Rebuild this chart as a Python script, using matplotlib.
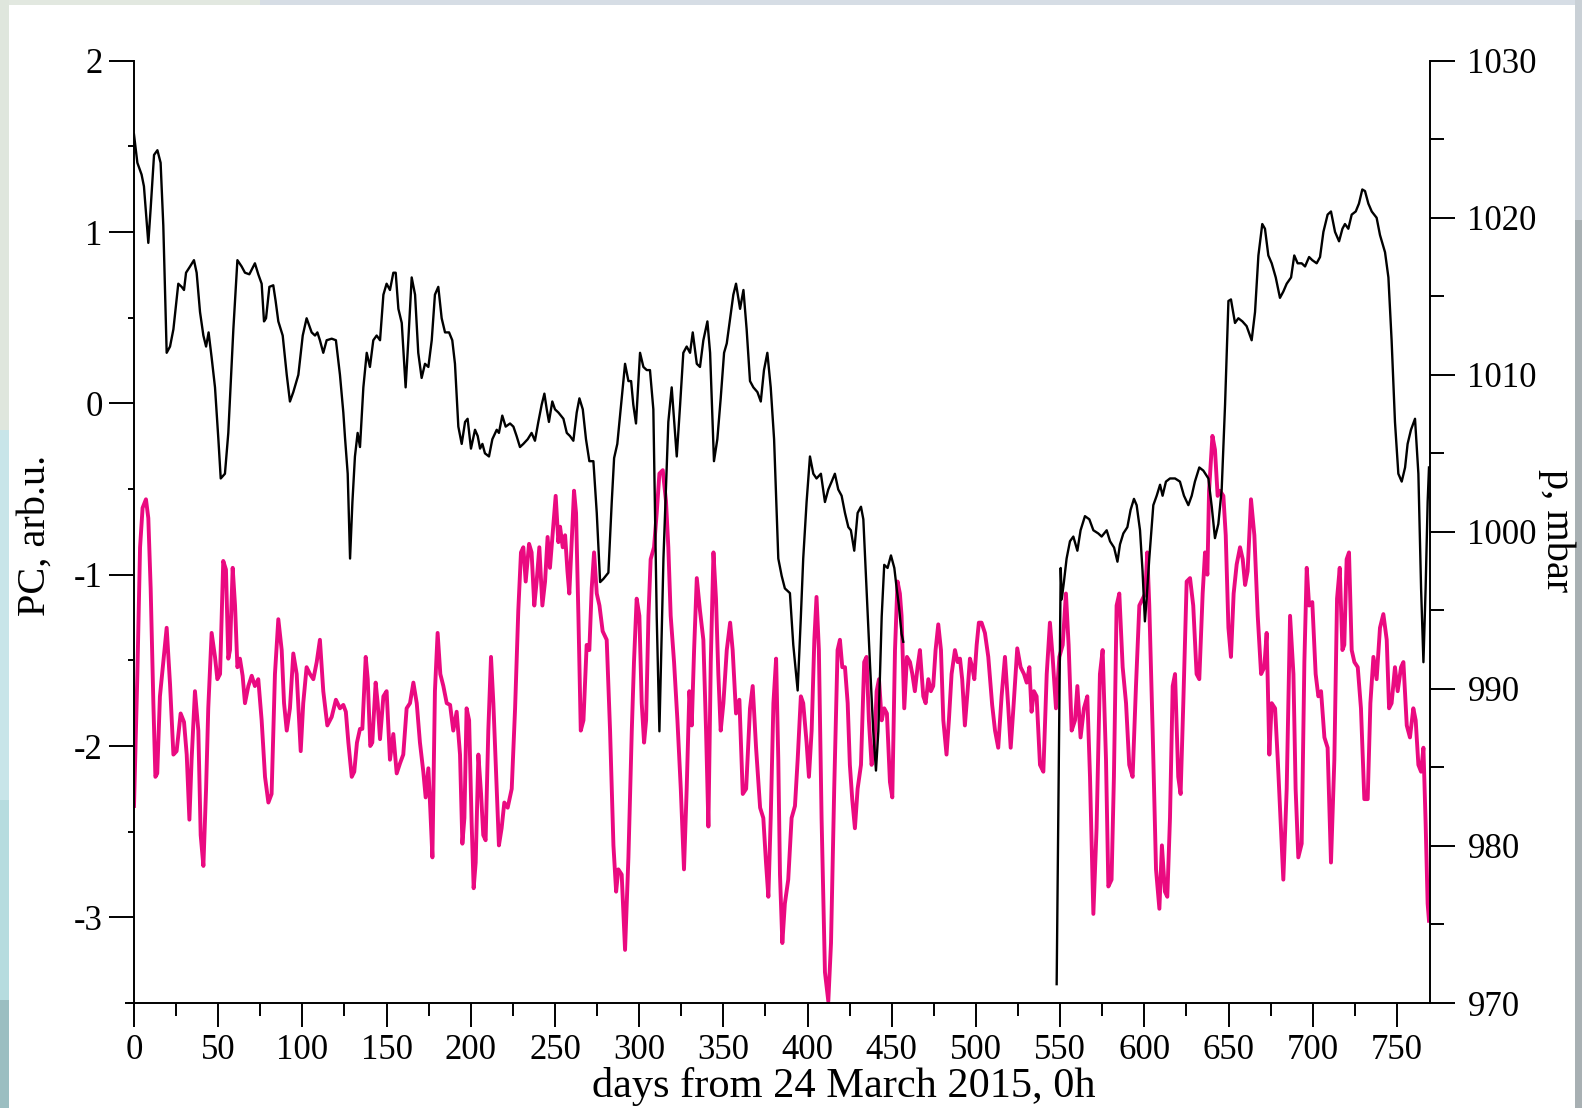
import numpy as np
import matplotlib
matplotlib.use("Agg")
import matplotlib.pyplot as plt
from matplotlib.patches import Rectangle
from matplotlib.ticker import MultipleLocator

plt.rcParams["font.family"] = ["Liberation Serif", "DejaVu Serif"]
plt.rcParams["axes.unicode_minus"] = False

# surface pressure, mbar (right axis); NaN marks the gap in the record
p_days = [0.0, 2.0, 4.5, 5.9, 8.5, 9.9, 11.9, 13.9, 15.8, 17.4, 19.4, 21.4, 23.4, 26.3,
          28.3, 29.7, 30.9, 33.3, 35.6, 37.2, 39.2, 41.2, 42.8, 44.3, 46.1, 48.1, 50.1,
          51.5, 54.0, 56.0, 59.0, 61.4, 63.9, 65.9, 68.5, 69.9, 71.8, 73.8, 75.8, 77.2,
          78.4, 80.4, 82.7, 84.1, 85.7, 88.3, 90.7, 92.6, 94.6, 97.6, 100.2, 102.5,
          105.5, 107.5, 108.9, 110.4, 112.4, 114.4, 117.4, 119.9, 122.3, 124.3, 125.3,
          126.9, 128.3, 129.7, 131.2, 132.8, 134.2, 136.2, 138.2, 140.1, 142.1, 144.1,
          146.1, 148.1, 150.0, 152.0, 154.0, 155.4, 157.0, 159.0, 161.3, 162.9, 164.9,
          166.9, 168.8, 170.8, 172.8, 174.8, 176.8, 178.7, 180.7, 182.7, 184.7, 187.1,
          189.0, 190.6, 192.6, 194.6, 196.6, 198.1, 200.1, 202.5, 204.1, 205.5, 206.9,
          208.4, 210.8, 212.8, 215.4, 216.7, 218.7, 220.7, 223.3, 225.3, 227.2, 229.2,
          231.2, 233.8, 236.1, 238.1, 240.1, 242.1, 243.7, 245.1, 246.4, 248.4, 250.0,
          252.0, 255.0, 257.0, 258.9, 260.9, 262.9, 264.5, 266.5, 268.4, 270.4, 272.8,
          274.8, 276.8, 278.7, 281.7, 283.7, 285.1, 287.0, 289.6, 291.6, 293.6, 295.2,
          296.5, 298.1, 300.5, 302.5, 304.5, 306.4, 308.4, 310.4, 312.0, 314.4, 317.3,
          319.3, 322.3, 324.3, 326.2, 328.2, 330.2, 331.8, 334.2, 336.1, 338.1, 340.5,
          342.1, 344.4, 346.4, 348.4, 350.4, 352.0, 354.0, 355.9, 357.5, 359.9, 361.9,
          363.8, 365.8, 367.8, 370.2, 372.2, 374.1, 376.1, 378.1, 380.1, 382.6, 384.6,
          386.5, 389.5, 391.5, 394.1, 396.0, 397.4, 399.4, 401.4, 403.4, 405.3, 407.9,
          410.3, 412.3, 414.3, 416.2, 418.2, 420.2, 422.2, 424.2, 425.7, 427.7, 429.7,
          431.7, 433.1, 435.0, 437.0, 439.0, 440.6, 442.0, 444.0, 445.5, 447.5, 449.5,
          451.5, 452.9, 454.2, 455.8, 456.8,
          500.0,
          547.9, 550.3, 550.9, 552.2, 553.8, 555.8, 557.8, 560.2, 562.1, 564.7, 567.3,
          569.7, 572.6, 574.6, 577.6, 579.6, 582.0, 584.0, 585.5, 587.5, 589.9, 591.8,
          593.8, 595.4, 597.4, 598.9, 600.3, 601.3, 602.9, 605.3, 607.3, 609.3, 610.8,
          612.8, 615.2, 618.2, 621.1, 623.5, 626.1, 628.1, 630.0, 632.6, 635.0, 638.0,
          640.0, 641.9, 643.9, 645.9, 647.9, 649.9, 651.4, 653.8, 655.8, 658.2, 660.7,
          663.7, 665.7, 667.7, 670.0, 671.6, 673.6, 675.6, 678.0, 680.5, 682.5, 684.5,
          687.1, 689.0, 691.0, 693.4, 695.4, 697.8, 699.7, 702.3, 704.3, 706.3, 708.8,
          710.8, 713.2, 715.6, 717.6, 719.1, 721.1, 723.1, 725.5, 727.4, 729.4, 731.0,
          733.0, 735.0, 737.9, 739.9, 742.9, 744.9, 746.8, 748.8, 750.8, 752.8, 754.8,
          756.3, 758.3, 760.7, 762.7, 764.3, 765.7, 767.0, 768.2, 769.0]
p_mbar = [1025.3, 1023.5, 1022.75, 1022.0, 1018.4, 1020.6, 1024.0, 1024.3, 1023.5,
          1019.5, 1011.4, 1011.8, 1012.9, 1015.8, 1015.6, 1015.4, 1016.5, 1016.9, 1017.3,
          1016.5, 1014.0, 1012.5, 1011.8, 1012.7, 1011.1, 1009.2, 1005.9, 1003.4, 1003.7,
          1006.3, 1012.9, 1017.3, 1016.9, 1016.5, 1016.4, 1016.7, 1017.1, 1016.4, 1015.8,
          1013.4, 1013.6, 1015.6, 1015.7, 1014.7, 1013.4, 1012.5, 1010.0, 1008.3, 1008.9,
          1010.0, 1012.5, 1013.6, 1012.7, 1012.5, 1012.7, 1012.2, 1011.4, 1012.2, 1012.3,
          1012.2, 1010.0, 1007.6, 1006.0, 1003.7, 998.3, 1001.9, 1004.8, 1006.3, 1005.4,
          1009.2, 1011.4, 1010.5, 1012.2, 1012.5, 1012.2, 1015.1, 1015.8, 1015.4, 1016.5,
          1016.5, 1014.2, 1013.3, 1009.2, 1012.2, 1016.2, 1015.1, 1011.4, 1009.8, 1010.7,
          1010.5, 1012.2, 1015.1, 1015.6, 1013.6, 1012.7, 1012.7, 1012.2, 1010.7, 1006.7,
          1005.6, 1007.0, 1007.2, 1005.3, 1006.5, 1006.1, 1005.3, 1005.6, 1005.0, 1004.8,
          1005.9, 1006.5, 1006.3, 1007.4, 1006.7, 1006.9, 1006.7, 1006.1, 1005.4, 1005.6,
          1005.9, 1006.3, 1005.8, 1007.0, 1008.1, 1008.8, 1007.8, 1007.0, 1008.3, 1007.8,
          1007.6, 1007.2, 1006.3, 1006.1, 1005.8, 1007.6, 1008.5, 1007.8, 1005.9, 1004.5,
          1004.5, 1001.2, 996.8, 997.0, 997.4, 1001.9, 1004.7, 1005.6, 1008.5, 1010.7,
          1009.6, 1009.6, 1008.1, 1006.9, 1011.4, 1010.5, 1010.3, 1010.3, 1007.8, 994.6,
          987.3, 998.3, 1007.0, 1009.2, 1004.8, 1008.1, 1011.4, 1011.8, 1011.4, 1012.7,
          1010.7, 1010.5, 1012.2, 1013.4, 1011.4, 1004.5, 1005.9, 1008.5, 1011.4, 1012.0,
          1013.6, 1015.1, 1015.8, 1014.2, 1015.4, 1012.9, 1009.6, 1009.2, 1008.9, 1008.3,
          1010.3, 1011.4, 1009.2, 1005.9, 998.3, 997.2, 996.4, 996.1, 992.8, 989.9, 994.6,
          998.3, 1001.9, 1004.8, 1003.7, 1003.4, 1003.7, 1001.9, 1002.7, 1003.2, 1003.7,
          1002.7, 1002.3, 1001.2, 1000.3, 1000.1, 998.8, 1001.2, 1001.6, 1000.8, 996.4,
          991.7, 987.3, 984.8, 987.3, 994.6, 997.9, 997.7, 998.5, 997.7, 996.4, 995.3,
          993.5, 993.0,
          np.nan,
          971.2, 997.7, 995.7, 996.8, 998.3, 999.4, 999.7, 998.8, 1000.1, 1001.0, 1000.8,
          1000.1, 999.9, 999.7, 1000.1, 999.4, 999.0, 998.1, 999.2, 999.9, 1000.3, 1001.4,
          1002.1, 1001.7, 1000.1, 997.5, 994.3, 995.7, 998.3, 1001.7, 1002.3, 1003.0,
          1002.3, 1003.2, 1003.4, 1003.4, 1003.2, 1002.3, 1001.7, 1002.3, 1003.2, 1004.1,
          1003.9, 1003.4, 1001.6, 999.6, 1000.5, 1002.7, 1008.1, 1014.7, 1014.8, 1013.3,
          1013.6, 1013.4, 1013.1, 1012.2, 1014.0, 1017.6, 1019.6, 1019.3, 1017.6, 1017.1,
          1016.2, 1014.9, 1015.3, 1015.8, 1016.2, 1017.6, 1017.1, 1017.1, 1016.9, 1017.5,
          1017.3, 1017.1, 1017.5, 1019.1, 1020.2, 1020.4, 1019.1, 1018.5, 1019.3, 1019.6,
          1019.3, 1020.2, 1020.4, 1020.9, 1021.8, 1021.7, 1020.9, 1020.4, 1020.0, 1018.9,
          1017.8, 1016.2, 1012.2, 1007.0, 1003.7, 1003.2, 1004.1, 1005.6, 1006.5, 1007.2,
          1003.7, 996.4, 991.7, 996.4, 1001.9, 1004.1]

# principal component, arb. units (left axis)
pc_days = [0.0, 2.0, 3.6, 5.1, 7.1, 8.5, 9.9, 11.5, 12.7, 13.8, 15.4, 17.4, 19.4, 21.4,
           23.4, 25.3, 27.7, 29.7, 31.3, 32.9, 34.2, 36.2, 38.2, 39.6, 41.2, 42.8, 44.1,
           46.1, 48.1, 49.5, 51.1, 53.0, 54.6, 56.0, 57.0, 58.6, 60.0, 61.4, 62.9, 64.5,
           65.9, 67.9, 69.9, 71.8, 73.8, 75.8, 77.8, 79.8, 81.7, 83.7, 85.7, 87.7, 89.1,
           90.7, 92.6, 94.6, 96.6, 99.0, 100.5, 102.5, 104.5, 106.5, 108.5, 110.4, 112.4,
           114.8, 117.4, 119.9, 122.3, 124.3, 125.8, 127.3, 129.3, 130.8, 132.4, 134.2,
           135.6, 137.6, 138.8, 140.3, 141.5, 143.5, 144.7, 146.1, 148.1, 150.0, 152.0,
           154.0, 156.0, 158.0, 159.9, 161.9, 163.9, 165.9, 167.9, 169.8, 171.8, 173.2,
           174.8, 176.0, 177.2, 178.7, 180.3, 181.9, 183.7, 185.7, 187.7, 189.6, 191.6,
           193.6, 195.0, 196.2, 197.5, 199.0, 200.5, 201.7, 202.9, 204.5, 206.1, 207.4,
           208.8, 210.4, 212.0, 213.4, 215.4, 216.7, 218.3, 219.9, 221.9, 224.3, 226.3,
           228.2, 229.8, 231.2, 232.6, 234.6, 236.1, 237.7, 239.1, 240.7, 242.5, 244.1,
           245.6, 247.0, 249.0, 250.4, 252.0, 253.0, 254.6, 256.0, 257.4, 258.5, 259.9,
           261.3, 262.5, 263.9, 265.3, 266.9, 268.8, 270.4, 271.8, 273.2, 274.8, 276.4,
           278.3, 280.7, 282.7, 284.7, 286.3, 287.6, 289.6, 291.6, 293.6, 295.6, 296.9,
           298.5, 300.1, 301.5, 302.9, 304.1, 305.5, 306.8, 308.8, 310.4, 312.0, 314.0,
           315.9, 317.3, 318.7, 320.7, 322.7, 324.7, 326.6, 328.2, 329.8, 331.2, 332.6,
           334.2, 336.1, 338.1, 339.7, 341.1, 342.5, 344.1, 345.6, 347.0, 348.4, 350.0,
           352.0, 354.0, 355.5, 357.5, 359.5, 361.5, 363.5, 365.8, 367.4, 369.4, 371.8,
           373.7, 375.3, 376.7, 378.1, 379.7, 381.3, 382.6, 383.6, 385.0, 386.5, 388.5,
           390.5, 392.5, 394.1, 396.0, 397.4, 399.4, 400.8, 402.4, 404.0, 405.3, 406.7,
           408.3, 410.3, 412.3, 413.9, 415.8, 417.8, 419.2, 420.6, 422.2, 423.8, 425.1,
           426.5, 428.1, 429.7, 431.7, 433.6, 435.0, 436.4, 438.0, 439.6, 441.0, 442.4,
           444.0, 445.5, 447.1, 448.9, 450.3, 451.9, 453.4, 454.8, 455.8, 457.4, 459.0,
           460.8, 462.2, 463.7, 465.3, 466.7, 468.7, 470.1, 471.7, 473.2, 474.6, 476.0,
           477.6, 479.2, 480.6, 482.5, 483.9, 485.5, 487.5, 489.1, 490.5, 491.8, 493.4,
           495.0, 496.4, 497.8, 499.0, 500.4, 501.7, 503.3, 505.3, 507.3, 509.6, 511.3,
           513.2, 515.2, 517.2, 519.2, 520.6, 522.2, 524.5, 526.5, 528.5, 530.1, 531.7,
           533.0, 534.4, 536.0, 538.0, 540.0, 542.0, 543.9, 545.5, 547.5, 549.5, 551.5,
           553.4, 555.0, 556.8, 558.8, 560.2, 562.1, 564.1, 566.1, 567.7, 569.7, 571.6,
           573.6, 575.2, 577.2, 578.6, 580.5, 581.9, 583.5, 585.1, 587.1, 589.1, 591.0,
           593.0, 595.0, 597.0, 599.0, 600.5, 601.7, 602.9, 604.9, 606.9, 608.9, 610.4,
           612.2, 613.6, 615.2, 616.8, 618.2, 620.1, 621.5, 623.1, 625.1, 627.1, 629.0,
           631.0, 632.6, 634.6, 636.0, 637.4, 638.4, 640.4, 641.9, 643.5, 644.9, 646.9,
           648.3, 649.9, 651.4, 653.0, 654.8, 656.8, 658.4, 659.8, 661.3, 663.3, 665.3,
           667.3, 669.3, 671.2, 672.6, 674.2, 675.6, 677.6, 679.2, 681.1, 682.5, 684.5,
           686.5, 688.5, 689.8, 691.4, 693.4, 695.0, 696.4, 697.8, 699.7, 701.7, 703.3,
           704.9, 706.9, 708.8, 710.8, 712.8, 714.4, 716.0, 717.6, 718.7, 720.1, 721.5,
           723.1, 724.7, 726.7, 728.6, 730.6, 732.6, 734.2, 736.0, 737.9, 739.9, 741.9,
           743.9, 745.3, 746.8, 748.8, 750.4, 752.4, 753.8, 755.8, 757.7, 759.7, 761.1,
           762.7, 764.3, 765.7, 767.0, 768.2, 769.0]
pc_vals = [-2.35, -1.58, -0.84, -0.61, -0.56, -0.67, -1.08, -1.75, -2.18, -2.16, -1.71,
           -1.51, -1.31, -1.64, -2.05, -2.03, -1.81, -1.86, -2.05, -2.43, -2.08, -1.68,
           -1.91, -2.52, -2.70, -2.25, -1.78, -1.34, -1.48, -1.61, -1.58, -0.92, -0.97,
           -1.49, -1.44, -0.96, -1.18, -1.54, -1.49, -1.59, -1.75, -1.65, -1.59, -1.65,
           -1.61, -1.85, -2.18, -2.33, -2.28, -1.58, -1.26, -1.44, -1.75, -1.91, -1.78,
           -1.46, -1.58, -2.03, -1.75, -1.54, -1.58, -1.61, -1.51, -1.38, -1.68, -1.88,
           -1.83, -1.73, -1.78, -1.76, -1.80, -1.98, -2.18, -2.15, -1.98, -1.90, -1.90,
           -1.48, -1.61, -2.00, -1.98, -1.63, -1.75, -1.96, -1.71, -1.68, -2.08, -1.93,
           -2.16, -2.10, -2.05, -1.78, -1.75, -1.63, -1.75, -1.98, -2.15, -2.30, -2.13,
           -2.38, -2.65, -1.68, -1.34, -1.58, -1.65, -1.75, -1.76, -1.91, -1.80, -2.05,
           -2.57, -2.42, -1.78, -1.85, -2.45, -2.83, -2.68, -2.05, -2.28, -2.52, -2.55,
           -1.91, -1.48, -1.75, -2.25, -2.58, -2.48, -2.33, -2.36, -2.25, -1.78, -1.21,
           -0.87, -0.84, -1.04, -0.82, -0.87, -1.18, -1.04, -0.84, -1.18, -1.04, -0.78,
           -0.96, -0.71, -0.54, -0.81, -0.72, -0.84, -0.77, -0.98, -1.11, -0.81, -0.51,
           -0.64, -1.24, -1.91, -1.85, -1.41, -1.44, -1.08, -0.87, -1.11, -1.18, -1.33,
           -1.38, -1.91, -2.58, -2.85, -2.72, -2.75, -3.19, -2.65, -1.91, -1.51, -1.14,
           -1.24, -1.75, -1.98, -1.85, -1.24, -0.91, -0.84, -0.64, -0.41, -0.39, -0.57,
           -0.84, -1.24, -1.51, -1.85, -2.25, -2.72, -2.25, -1.68, -1.88, -1.44, -1.02,
           -1.21, -1.38, -1.91, -2.47, -1.51, -0.87, -1.14, -1.58, -1.91, -1.75, -1.44,
           -1.28, -1.44, -1.81, -1.73, -2.28, -2.25, -1.78, -1.65, -2.01, -2.36, -2.42,
           -2.68, -2.88, -2.42, -1.75, -1.49, -2.08, -2.75, -3.15, -2.92, -2.78, -2.42,
           -2.35, -2.08, -1.71, -1.75, -1.98, -2.18, -1.91, -1.38, -1.13, -1.44, -2.42,
           -3.32, -3.49, -3.15, -2.25, -1.44, -1.38, -1.54, -1.54, -1.75, -2.11, -2.31,
           -2.48, -2.25, -2.11, -1.51, -1.48, -1.85, -2.11, -2.01, -1.68, -1.61, -1.85,
           -1.78, -1.81, -2.21, -2.30, -1.44, -1.04, -1.11, -1.24, -1.78, -1.48, -1.51,
           -1.58, -1.68, -1.54, -1.44, -1.71, -1.75, -1.61, -1.68, -1.65, -1.44, -1.29,
           -1.44, -1.85, -2.05, -1.85, -1.58, -1.44, -1.51, -1.49, -1.61, -1.88, -1.68,
           -1.49, -1.54, -1.61, -1.41, -1.28, -1.28, -1.34, -1.48, -1.76, -1.91, -2.01,
           -1.71, -1.48, -1.78, -2.01, -1.78, -1.43, -1.54, -1.58, -1.63, -1.54, -1.80,
           -1.68, -1.71, -2.11, -2.15, -1.58, -1.28, -1.48, -1.78, -1.48, -1.41, -1.11,
           -1.41, -1.91, -1.85, -1.65, -1.95, -1.78, -1.71, -2.18, -2.98, -2.48, -1.58,
           -1.44, -2.08, -2.82, -2.78, -2.18, -1.18, -1.11, -1.54, -1.75, -2.11, -2.18,
           -1.65, -1.18, -1.14, -1.11, -0.87, -1.18, -1.91, -2.72, -2.95, -2.58, -2.85,
           -2.88, -2.42, -1.65, -1.58, -2.18, -2.28, -1.75, -1.04, -1.02, -1.18, -1.58,
           -1.61, -1.11, -0.87, -1.00, -0.51, -0.19, -0.27, -0.54, -0.51, -0.54, -0.77,
           -1.31, -1.48, -1.11, -0.94, -0.84, -0.91, -1.06, -0.98, -0.56, -0.77, -1.24,
           -1.58, -1.54, -1.34, -2.05, -1.75, -1.78, -2.08, -2.48, -2.78, -2.25, -1.24,
           -1.58, -2.25, -2.65, -2.57, -1.51, -0.96, -1.18, -1.16, -1.58, -1.71, -1.68,
           -1.95, -2.01, -2.68, -2.08, -1.14, -0.96, -1.44, -1.41, -0.91, -0.87, -1.44,
           -1.51, -1.54, -1.78, -2.31, -2.31, -1.75, -1.48, -1.61, -1.31, -1.23, -1.38,
           -1.78, -1.75, -1.54, -1.68, -1.54, -1.51, -1.88, -1.95, -1.78, -1.85, -2.11,
           -2.15, -2.01, -2.45, -2.92, -3.02]

W, H = 1582, 1108
fig = plt.figure(figsize=(W / 100, H / 100), dpi=100)
fig.set_facecolor("#d6dde5")


def band(x0, y0, x1, y1, color):
    # rectangle given in pixels from the top-left corner
    fig.add_artist(Rectangle((x0 / W, 1 - y1 / H), (x1 - x0) / W, (y1 - y0) / H,
                             transform=fig.transFigure, facecolor=color,
                             edgecolor="none", zorder=-10))


# slide backdrop around the white panel
band(0, 0, 260, 6, "#e2e8e0")
band(0, 0, 9, 430, "#dfe6dd")
band(0, 430, 9, 800, "#c8e5e9")
band(0, 800, 9, 1000, "#b6dcdf")
band(0, 1000, 9, H, "#9bbec1")
band(1575, 0, W, 220, "#c9d0d6")
band(1575, 220, W, H, "#a8b0b3")
band(9, 5, 1575, H, "white")

ax = fig.add_axes([134 / W, 1 - 1003 / H, (1430 - 134) / W, (1003 - 60.7) / H])
ax.patch.set_visible(False)
ax2 = ax.twinx()
ax2.patch.set_visible(False)

pink = "#ea0a80"
ax.plot(pc_days, pc_vals, color=pink, lw=2.8, solid_joinstyle="round")
ax2.plot(p_days, p_mbar, color="black", lw=1.7, solid_joinstyle="round")

ax.set_xlim(0, 769.6)
ax.set_ylim(-3.5, 2)
ax2.set_ylim(970, 1030)

ax.xaxis.set_major_locator(MultipleLocator(50))
ax.xaxis.set_minor_locator(MultipleLocator(25))
ax.yaxis.set_major_locator(MultipleLocator(1))
ax.yaxis.set_minor_locator(MultipleLocator(0.5))
ax2.yaxis.set_major_locator(MultipleLocator(10))
ax2.yaxis.set_minor_locator(MultipleLocator(5))

for s in ("top", "right"):
    ax.spines[s].set_visible(False)
for s in ("top", "left", "bottom"):
    ax2.spines[s].set_visible(False)
for a in (ax, ax2):
    for sp in a.spines.values():
        sp.set_linewidth(1.4)

ax.tick_params(axis="x", which="major", direction="out", length=17, width=1.4,
               pad=5, labelsize=25)
ax.tick_params(axis="x", which="minor", direction="out", length=9, width=1.4)
ax.tick_params(axis="y", which="major", direction="out", length=18, width=1.4,
               pad=4.5, labelsize=25)
ax.tick_params(axis="y", which="minor", direction="out", length=4, width=1.4)
ax2.tick_params(axis="y", which="major", direction="out", length=18, width=1.4,
                pad=9, labelsize=25)
ax2.tick_params(axis="y", which="minor", direction="out", length=10, width=1.4)

# short stub of the time axis left of the PC axis
ax.plot([-9 / 1296, 0], [0, 0], transform=ax.transAxes, color="black", lw=1.4,
        clip_on=False, solid_capstyle="butt")

fig.text(844 / W, 1 - 1097 / H, "days from 24 March 2015, 0h", fontsize=30.5,
         ha="center", va="baseline")
fig.text(35 / W, 1 - 535 / H, "PC, arb.u.", fontsize=29, rotation=90,
         ha="center", va="center")
fig.text(1557 / W, 1 - 531 / H, "p, mbar", fontsize=29, rotation=270,
         ha="center", va="center")

fig.savefig("out.png", dpi=100, facecolor=fig.get_facecolor())
